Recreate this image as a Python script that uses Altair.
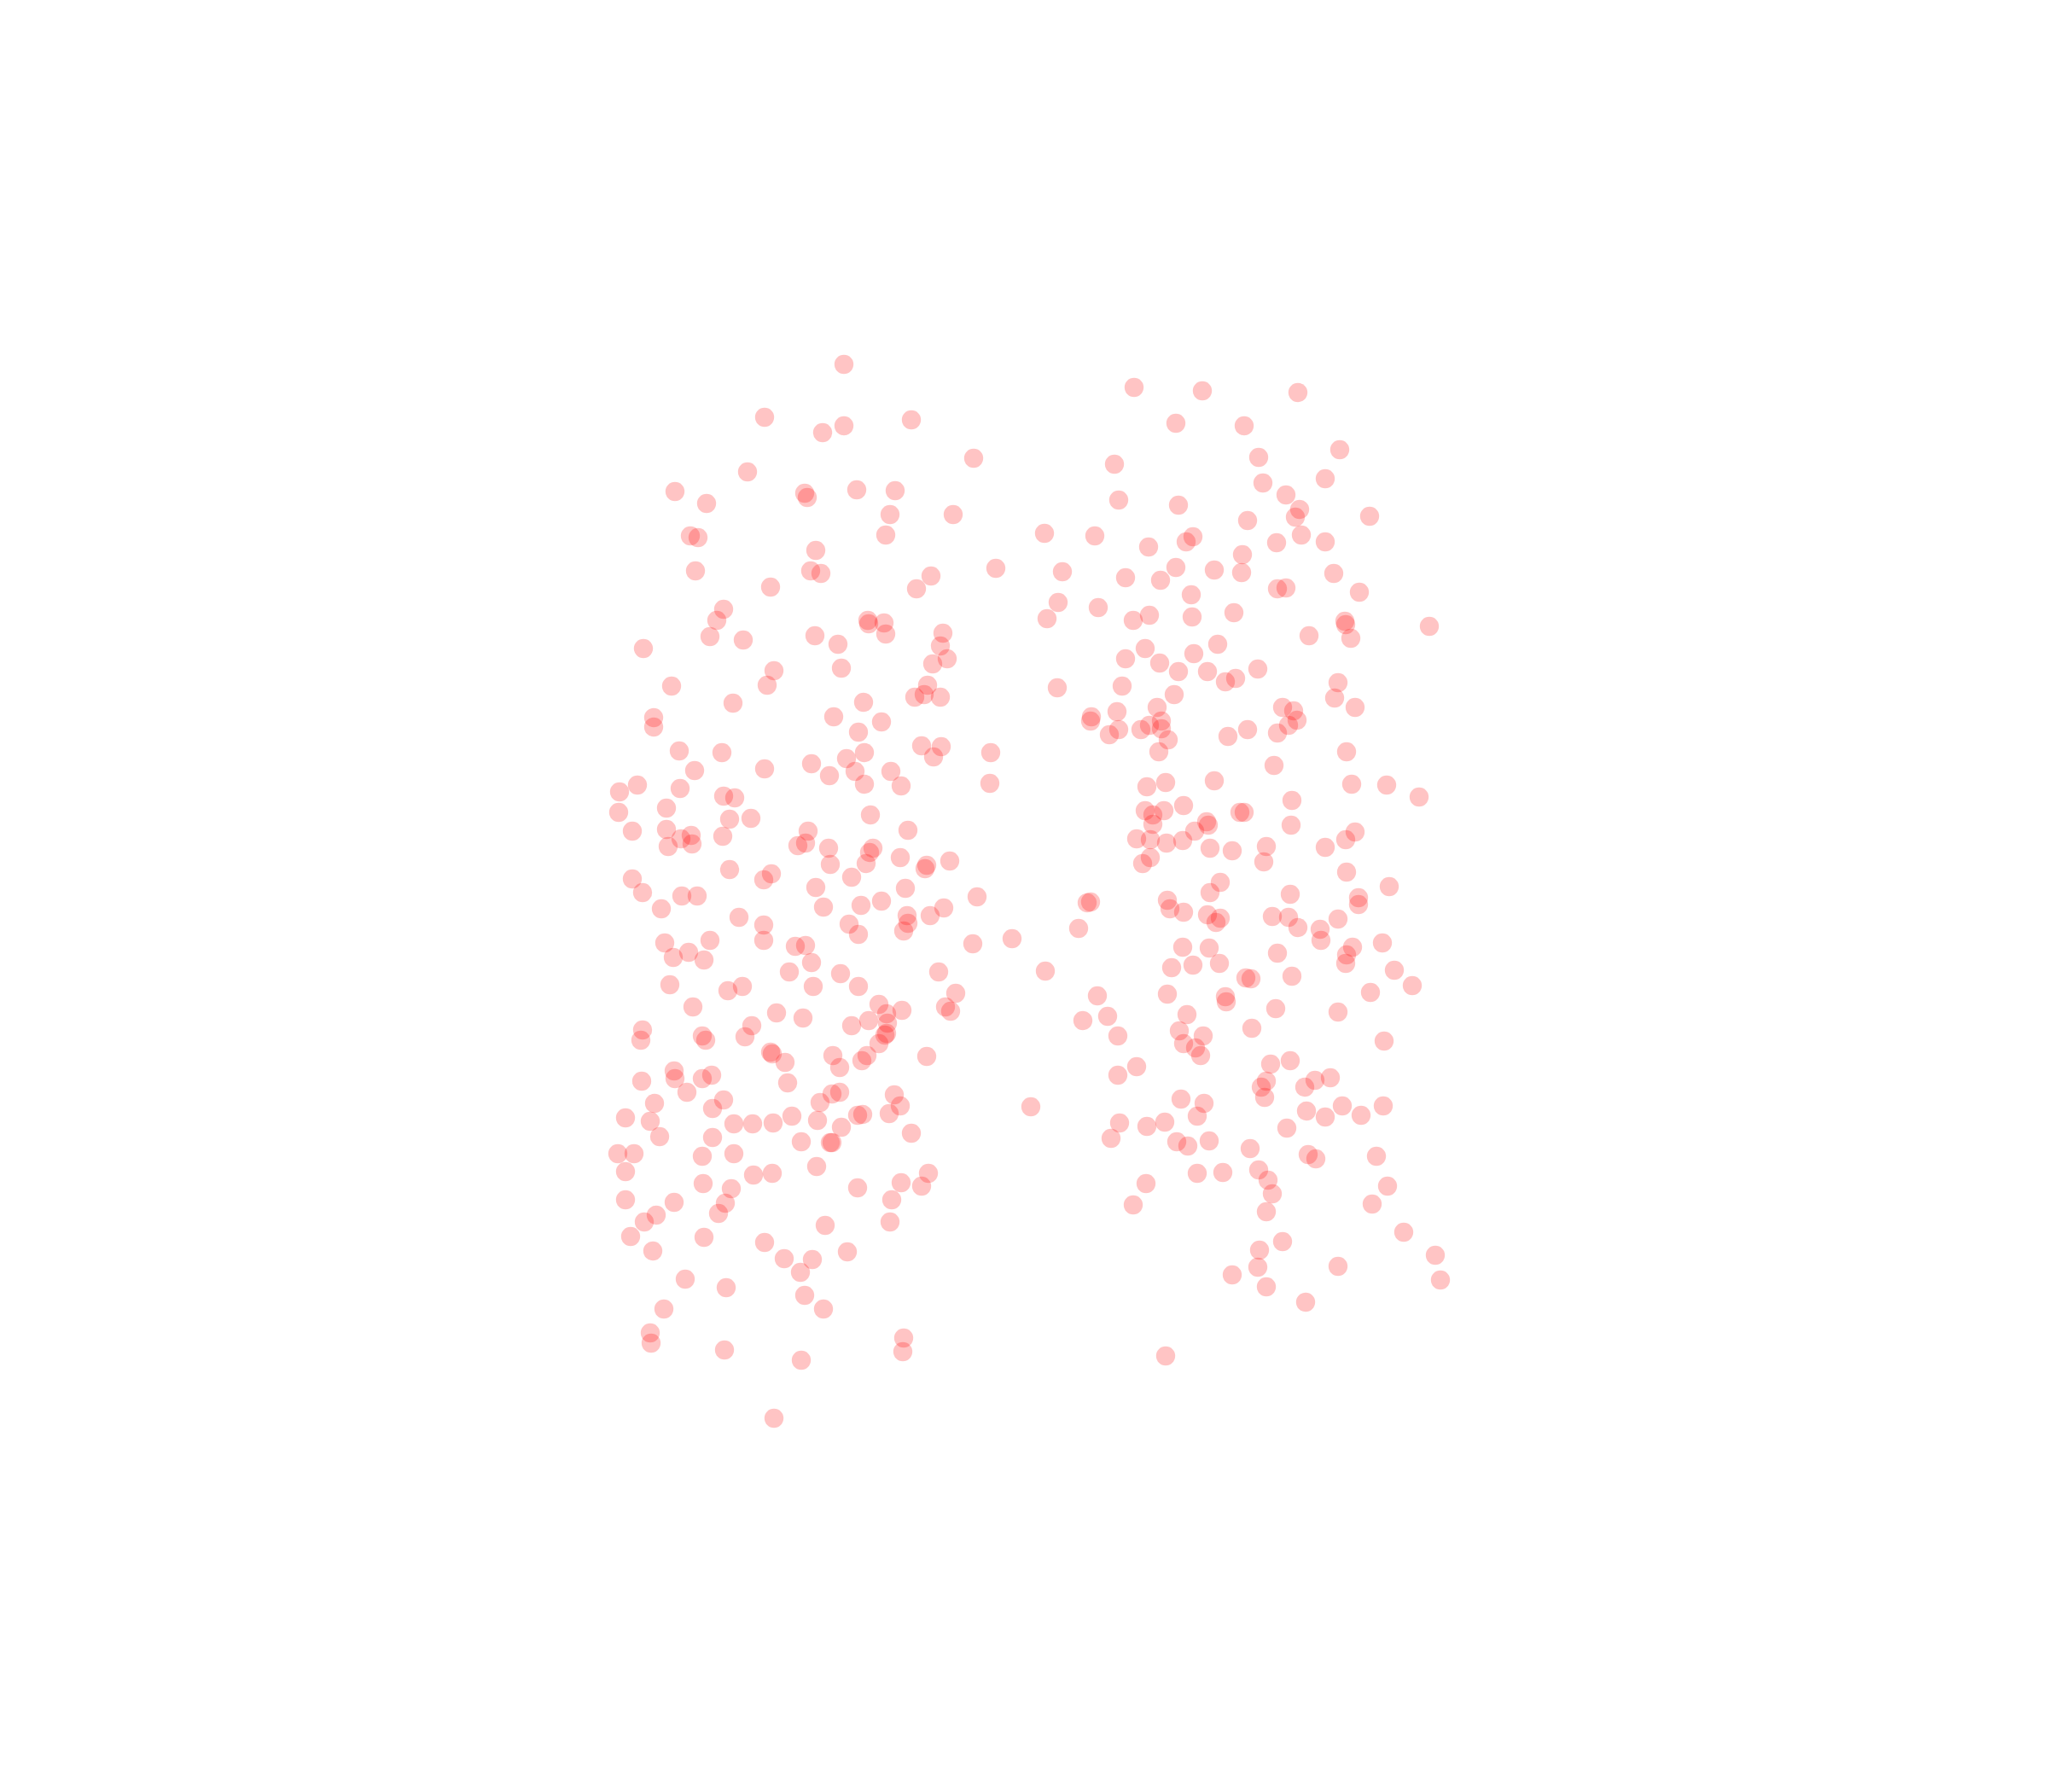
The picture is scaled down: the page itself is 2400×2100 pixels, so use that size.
import altair as alt
import pandas as pd

upper_left = [(989,427),(896,489),(964,507),(989,499),(1068,492),(1141,537),(876,553),(791,576),(828,590),(943,578),(946,583),(1004,574),(1049,575),(1043,603),(1117,603),(1038,627),(809,628),(818,630),(956,645),(815,669),(950,669),(962,672),(1167,666),(1091,675),(1074,690),(903,688),(848,714),(840,727),(832,746),(871,750),(754,760),(955,745),(982,755),(986,783),(1017,727),(1018,731),(1036,730),(1038,743),(1105,742),(1102,757),(1110,772),(1093,778),(907,786),(899,803),(787,804),(1087,803),(1072,817),(1083,814),(1102,817)]

middle_left = [(859,824),(1012,823),(977,840),(1033,846),(1006,858),(766,841),(766,852),(796,880),(846,882),(814,903),(896,901),(797,924),(951,895),(972,909),(992,889),(1013,882),(1002,904),(1013,919),(1044,904),(1056,921),(1080,874),(1103,875),(1094,887),(1161,882),(1160,918),(747,920),(726,928),(725,952),(741,974),(781,947),(781,972),(798,983),(810,979),(811,989),(783,992),(848,933),(861,935),(855,960),(880,959),(847,980),(1020,955),(1064,973),(947,974),(935,991),(944,988),(971,994),(973,1013),(1023,994),(1019,999),(1015,1012),(1055,1005),(1086,1014),(1084,1018),(1113,1009),(855,1019),(904,1024),(895,1031),(741,1030),(753,1046),(799,1050),(817,1050),(775,1065),(998,1028),(956,1040),(1061,1041),(965,1063),(1009,1061),(1033,1056),(1145,1051),(1063,1073),(1064,1082),(1059,1091),(1090,1073),(1106,1064),(995,1083),(1006,1095),(866,1075),(895,1084),(895,1102),(1186,1100),(1140,1106),(779,1105),(832,1102),(807,1116),(789,1122),(825,1125),(932,1109),(944,1108),(951,1128),(925,1139),(985,1141),(1100,1139),(1006,1156),(953,1156),(785,1154),(853,1161),(870,1156),(1120,1164),(1108,1180),(1114,1185),(1030,1177),(1039,1188),(1057,1184),(1040,1199),(1018,1196),(998,1202),(812,1180),(910,1187),(941,1193),(753,1207),(751,1219),(823,1214),(827,1219),(881,1202),(873,1215),(1039,1211),(1037,1213),(1030,1223),(903,1233),(905,1235),(920,1245),(976,1237),(1016,1237),(1010,1243),(1086,1238)]

lower_left = [(984,1251),(923,1269),(752,1267),(790,1255),(791,1264),(823,1264),(834,1260),(805,1280),(767,1293),(848,1289),(835,1299),(733,1310),(762,1314),(773,1332),(860,1317),(882,1317),(906,1316),(928,1308),(961,1292),(975,1282),(984,1280),(958,1313),(986,1321),(1005,1307),(1011,1306),(1048,1283),(1055,1296),(1042,1305),(1068,1328),(939,1338),(973,1339),(975,1339),(835,1333),(724,1352),(743,1352),(733,1373),(823,1355),(860,1352),(883,1377),(905,1375),(957,1367),(824,1387),(857,1393),(850,1410),(842,1422),(733,1406),(790,1409),(769,1424),(755,1432),(739,1449),(765,1466),(825,1450),(1005,1392),(1056,1386),(1088,1375),(1080,1390),(1045,1406),(1043,1432),(967,1436),(896,1456),(919,1475),(952,1476),(938,1491),(993,1467),(943,1518),(965,1534),(803,1499),(851,1509),(778,1534),(762,1562),(763,1574),(849,1582),(939,1594),(1059,1568),(1058,1584),(907,1662)]

upper_right = [(1329,454),(1409,458),(1521,460),(1378,496),(1458,499),(1570,527),(1475,536),(1306,544),(1553,561),(1480,566),(1507,580),(1523,597),(1518,606),(1605,605),(1311,586),(1381,592),(1462,610),(1224,625),(1283,628),(1346,641),(1398,629),(1390,635),(1525,627),(1496,636),(1553,635),(1456,650),(1455,671),(1423,668),(1378,665),(1319,677),(1360,680),(1245,670),(1563,672),(1593,694),(1497,690),(1507,689),(1396,697),(1240,706),(1227,725),(1287,712),(1328,727),(1347,721),(1397,723),(1446,718),(1576,728),(1577,732),(1583,748),(1675,734),(1534,745),(1427,755),(1399,766),(1342,760),(1319,772),(1359,777),(1381,787),(1415,787),(1436,799),(1448,795),(1474,784),(1568,800),(1564,818),(1239,806),(1315,804),(1376,814),(1356,829),(1503,829),(1588,829)]

middle_right = [(1279,840),(1278,845),(1309,834),(1311,855),(1300,861),(1337,855),(1347,850),(1361,845),(1361,854),(1369,867),(1358,881),(1439,863),(1462,855),(1497,859),(1510,850),(1520,844),(1516,833),(1578,881),(1493,897),(1584,919),(1625,920),(1663,934),(1344,922),(1366,917),(1423,915),(1514,938),(1513,967),(1342,950),(1364,950),(1351,955),(1351,966),(1387,944),(1453,952),(1458,952),(1414,963),(1416,967),(1400,974),(1332,983),(1348,984),(1367,988),(1386,985),(1418,994),(1444,997),(1484,992),(1481,1010),(1348,1005),(1339,1012),(1588,975),(1577,984),(1553,993),(1578,1022),(1628,1039),(1430,1034),(1418,1046),(1512,1048),(1592,1052),(1592,1060),(1274,1058),(1278,1057),(1368,1055),(1371,1065),(1387,1069),(1415,1072),(1430,1076),(1425,1081),(1491,1074),(1510,1075),(1521,1087),(1547,1089),(1548,1102),(1568,1077),(1264,1088),(1386,1110),(1417,1111),(1497,1117),(1585,1110),(1578,1119),(1577,1129),(1620,1105),(1634,1137),(1655,1155),(1606,1163),(1514,1144),(1373,1134),(1398,1131),(1429,1129),(1460,1146),(1466,1147),(1225,1138),(1436,1168),(1437,1174),(1495,1182),(1568,1186),(1286,1167),(1368,1165),(1269,1196),(1298,1191),(1310,1214),(1391,1189),(1382,1208),(1410,1214),(1387,1223),(1401,1228),(1407,1237),(1467,1205),(1622,1220),(1489,1247),(1512,1243)]

lower_right = [(1332,1250),(1310,1260),(1484,1267),(1478,1274),(1482,1286),(1529,1274),(1541,1266),(1559,1263),(1531,1302),(1553,1309),(1573,1296),(1595,1307),(1621,1296),(1508,1322),(1384,1288),(1411,1293),(1403,1308),(1208,1297),(1312,1316),(1344,1320),(1365,1315),(1302,1334),(1379,1338),(1392,1343),(1417,1337),(1465,1346),(1533,1353),(1542,1358),(1613,1355),(1626,1390),(1608,1411),(1403,1375),(1433,1374),(1475,1371),(1486,1383),(1491,1399),(1484,1420),(1343,1387),(1328,1412),(1645,1444),(1503,1455),(1476,1465),(1474,1485),(1444,1494),(1484,1508),(1568,1484),(1682,1471),(1688,1500),(1530,1526),(1366,1589)]

rows = upper_left + middle_left + lower_left + upper_right + middle_right + lower_right
df = pd.DataFrame(rows, columns=["x", "y"])

chart = (
    alt.Chart(df)
    .mark_circle(color="#ff0000", opacity=0.23, size=500, strokeWidth=0)
    .encode(
        x=alt.X("x:Q", axis=None, scale=alt.Scale(domain=[8, 2392], nice=False, zero=False)),
        y=alt.Y("y:Q", axis=None, scale=alt.Scale(domain=[2092, 8], nice=False, zero=False)),
    )
    .properties(width=2384, height=2084, background="white", padding=0, autosize=alt.AutoSizeParams(type="none"))
    .configure_view(stroke=None)
)

chart.save("out.html", embed_options={"renderer": "svg", "actions": False})
